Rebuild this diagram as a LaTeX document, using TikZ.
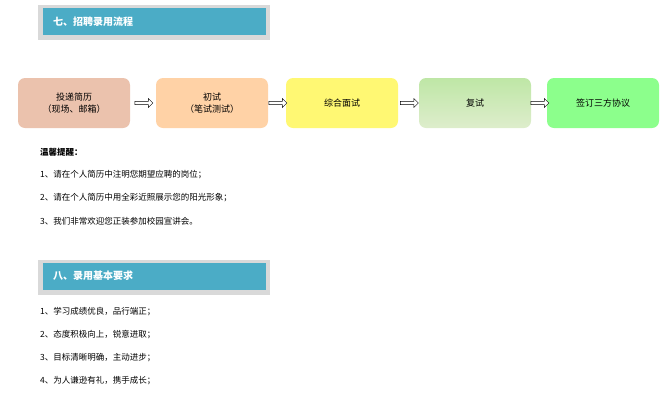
\documentclass[tikz,border=0pt]{standalone}
\usepackage{fontspec}
\setmainfont{Noto Sans CJK SC}
\usetikzlibrary{positioning,shapes.arrows,calc}
\definecolor{headblue}{HTML}{4BACC6}
\definecolor{headgrey}{HTML}{D9D9D9}

\begin{document}
\begin{tikzpicture}[
  x=1pt, y=-1pt,
  head/.style={rectangle, fill=headblue, text=white, font=\bfseries\fontsize{10}{12}\selectfont, minimum width=223pt, minimum height=27pt, anchor=west, inner xsep=10pt, text width=203pt, align=left},
  headback/.style={rectangle, fill=headgrey, minimum width=232pt, minimum height=35pt},
  flow/.style={rectangle, rounded corners=7pt, minimum width=112pt, minimum height=50pt, align=center, font=\fontsize{9}{12}\selectfont},
  harrow/.style={single arrow, draw, fill=white, thin, minimum width=9pt, single arrow head extend=2pt, minimum height=18pt, inner sep=1pt},
  txt/.style={anchor=west, font=\fontsize{8.5}{10}\selectfont, inner sep=0pt}
]
\useasboundingbox (0,0) rectangle (662,405);

% Section 7 header
\node[headback] (back1) at (154,22.5) {};
\node[head] (head1) at (43,21.5) {七、招聘录用流程};

% Flow boxes
\node[flow, fill=red!20!brown!40!white] (send) at (74,103) {投递简历\\（现场、邮箱）};
\node[flow, fill=orange!35] (first) at (212,103) {初试\\（笔试测试）};
\node[flow, fill=yellow!55] (inter) at (342,103) {综合面试};
\node[flow, top color=green!45!olive!35, bottom color=green!30!olive!20] (second) at (475,103) {复试};
\node[flow, fill=green!45] (sign) at (603,103) {签订三方协议};

% Hollow arrows
\foreach \a/\b in {send/first, first/inter, inter/second, second/sign}
  \node[harrow] at ($(\a.east)!0.5!(\b.west)$) {};

% Reminder
\node[txt, font=\bfseries\fontsize{8.5}{10}\selectfont] (tip) at (40,152) {温馨提醒：};
\node[txt] (tip1) at (40,175) {1、请在个人简历中注明您期望应聘的岗位；};
\node[txt] (tip2) at (40,198) {2、请在个人简历中用全彩近照展示您的阳光形象；};
\node[txt] (tip3) at (40,221) {3、我们非常欢迎您正装参加校园宣讲会。};

% Section 8 header
\node[headback] (back2) at (154,277) {};
\node[head] (head2) at (43,276) {八、录用基本要求};

\node[txt] (req1) at (40,312) {1、学习成绩优良，品行端正；};
\node[txt] (req2) at (40,335) {2、态度积极向上，锐意进取；};
\node[txt] (req3) at (40,358) {3、目标清晰明确，主动进步；};
\node[txt] (req4) at (40,381) {4、为人谦逊有礼，携手成长；};
\end{tikzpicture}
\end{document}
